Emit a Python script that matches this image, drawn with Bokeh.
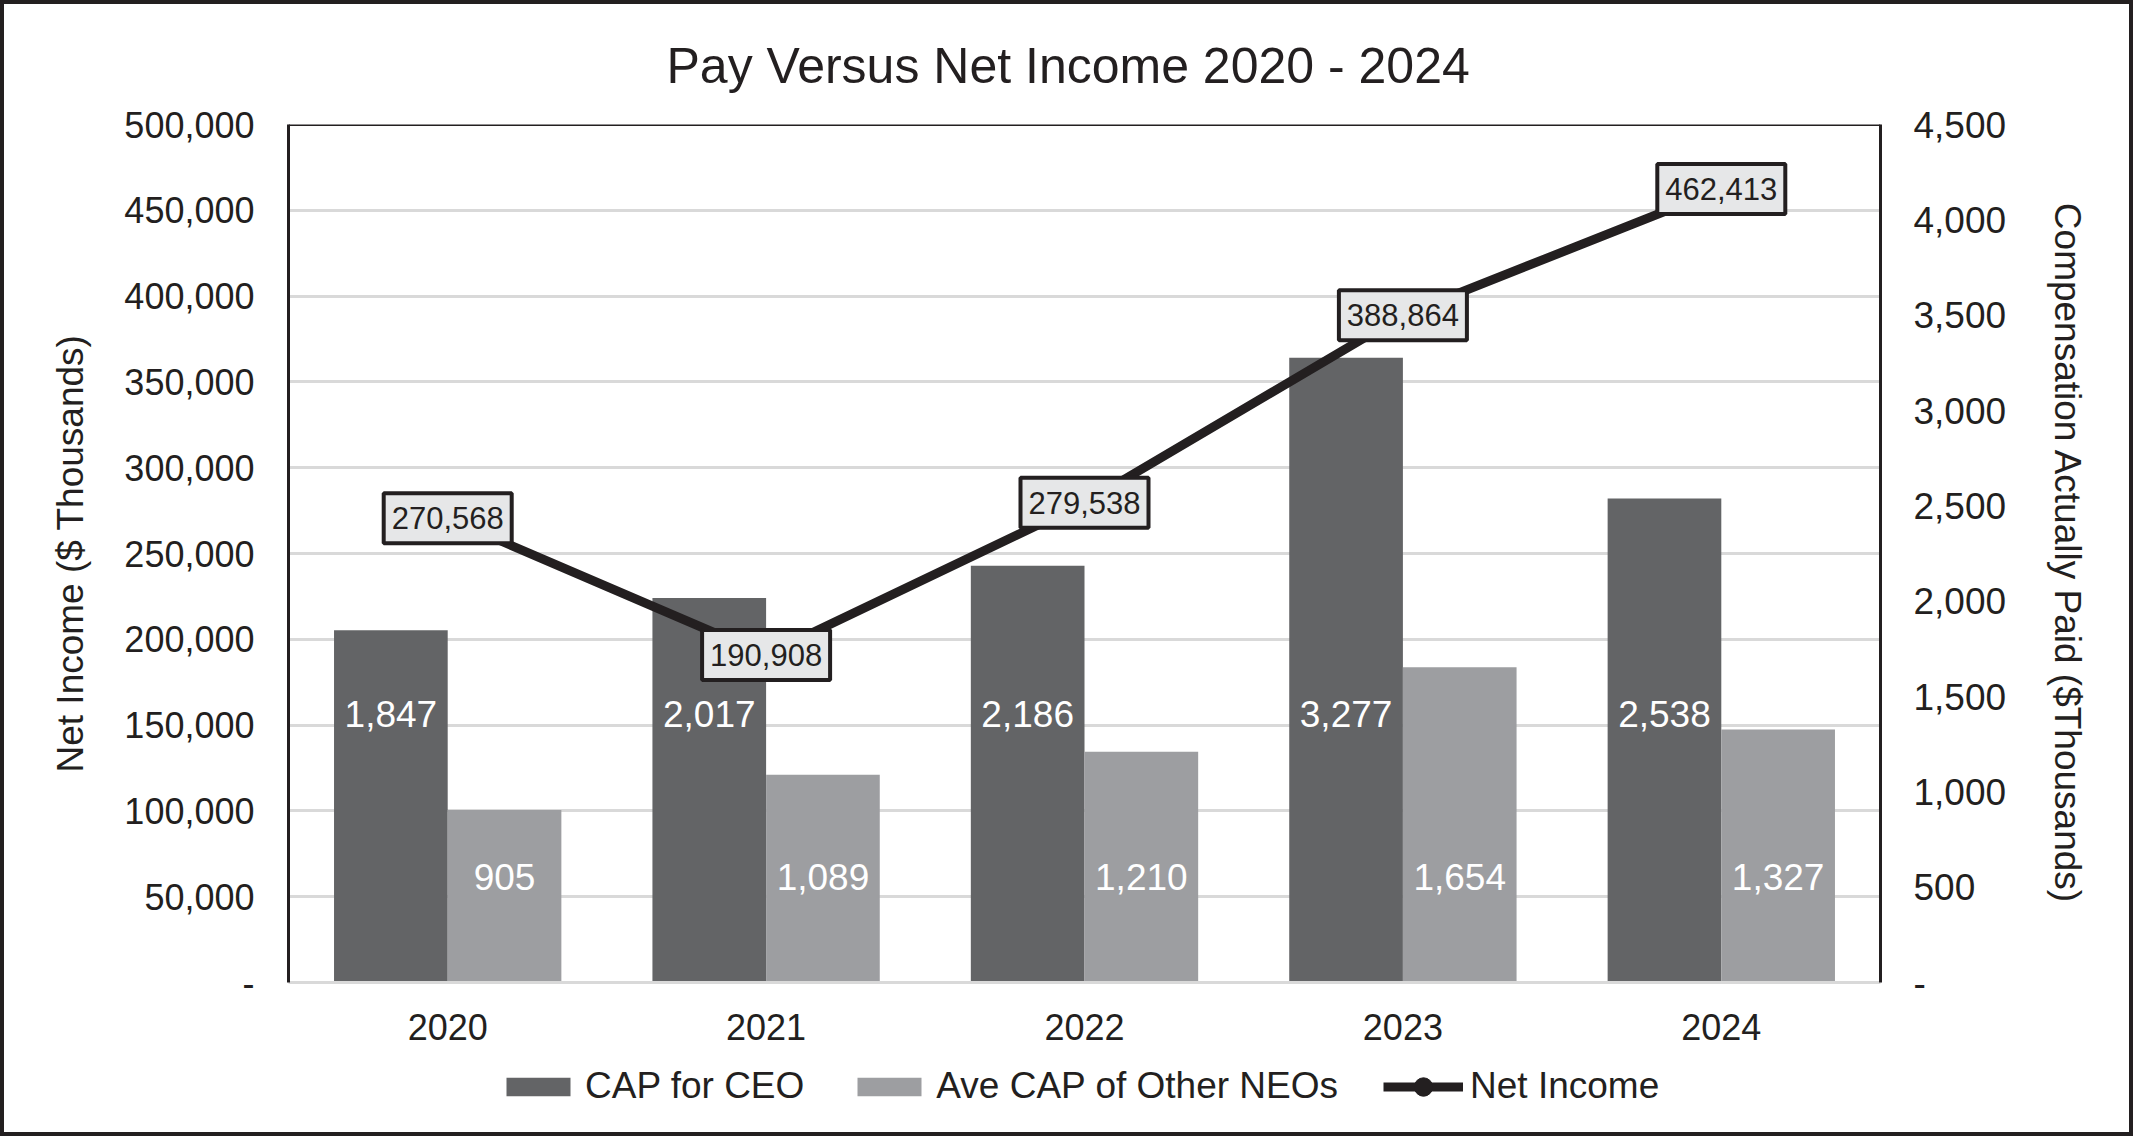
from bokeh.plotting import figure
from bokeh.layouts import column
from bokeh.models import (ColumnDataSource, FactorRange, Range1d, LinearAxis, FixedTicker,
                          NumeralTickFormatter, Legend, LegendItem, Span)
from bokeh.transform import dodge
from bokeh.core.properties import value
from bokeh.embed import file_html
from bokeh.resources import INLINE

# ---- data ----
years = ["2020", "2021", "2022", "2023", "2024"]
cap_ceo = [1847, 2017, 2186, 3277, 2538]
cap_neo = [905, 1089, 1210, 1654, 1327]
net_income = [270568, 190908, 279538, 388864, 462413]
left_ticks = [0, 50000, 100000, 150000, 200000, 250000, 300000, 350000, 400000, 450000, 500000]
right_ticks = [0, 500, 1000, 1500, 2000, 2500, 3000, 3500, 4000, 4500]
series_names = ["CAP for CEO", "Ave CAP of Other NEOs", "Net Income"]

FONT = "Liberation Sans"
DARK = "#231f20"
CEO_C = "#636466"
NEO_C = "#9d9ea1"
GRID_C = "#d9d9d9"
BOX_C = "#e6e7e8"

src = ColumnDataSource(dict(
    year=years, ceo=cap_ceo, neo=cap_neo, ni=net_income,
    ceo_lbl=[f"{v:,}" for v in cap_ceo],
    neo_lbl=[f"{v:,}" for v in cap_neo],
    ni_lbl=[f"{v:,}" for v in net_income],
))

B = 4
TOTAL_W, TOTAL_H = 2133 - 2 * B, 1136 - 2 * B
FL, FR, FT, FB = 288, 1880, 124, 982  # frame edges in page pixels
BOTTOM = 70
p = figure(frame_width=FR - FL, frame_height=FB - FT,
           x_range=FactorRange(*years), y_range=Range1d(0, 500000),
           output_backend="svg", toolbar_location=None,
           min_border_left=FL - B, min_border_right=2133 - B - FR,
           min_border_top=FT - B, min_border_bottom=BOTTOM,
           title="Pay Versus Net Income 2020 - 2024")
p.extra_y_ranges = {"cap": Range1d(0, 4500)}
p.outline_line_color = None
p.background_fill_color = "white"
p.border_fill_color = "white"

# title
p.title.align = "left"
p.title.offset = 378
p.title.text_font = FONT
p.title.text_font_size = "50px"
p.title.text_font_style = "normal"
p.title.text_color = DARK
p.title.standoff = 61


def style_axis(ax, size):
    ax.major_tick_line_color = None
    ax.minor_tick_line_color = None
    ax.major_label_text_font = FONT
    ax.major_label_text_font_size = size
    ax.major_label_text_color = DARK
    ax.axis_label_text_font = FONT
    ax.axis_label_text_font_size = "37px"
    ax.axis_label_text_font_style = "normal"
    ax.axis_label_text_color = DARK


# left axis
ly = p.yaxis[0]
ly.ticker = FixedTicker(ticks=left_ticks)
ly.formatter = NumeralTickFormatter(format="0,0")
ly.major_label_overrides = {0: "-"}
ly.axis_label = "Net Income ($ Thousands)"
style_axis(ly, "36px")
ly.axis_line_color = DARK
ly.axis_line_width = 3
ly.major_label_standoff = 28
ly.axis_label_standoff = 30

ry = LinearAxis(y_range_name="cap", ticker=FixedTicker(ticks=right_ticks),
                formatter=NumeralTickFormatter(format="0,0"),
                axis_label="Compensation Actually Paid ($Thousands)")
ry.major_label_overrides = {0: "-"}
style_axis(ry, "37px")
ry.axis_line_color = DARK
ry.axis_line_width = 3
ry.major_label_standoff = 27
ry.axis_label_standoff = 38
p.add_layout(ry, "right")

xa = p.xaxis[0]
style_axis(xa, "36px")
xa.axis_line_color = GRID_C
xa.axis_line_width = 3
xa.major_label_standoff = 25

p.xgrid.grid_line_color = None
p.ygrid.grid_line_color = GRID_C
p.ygrid.grid_line_width = 3

p.add_layout(Span(location=500000, dimension="width", line_color=DARK, line_width=3))

# bars
bw = 0.357
p.vbar(x=dodge("year", -bw / 2, range=p.x_range), top="ceo", width=bw, source=src,
       y_range_name="cap", fill_color=CEO_C, line_color=None)
p.vbar(x=dodge("year", bw / 2, range=p.x_range), top="neo", width=bw, source=src,
       y_range_name="cap", fill_color=NEO_C, line_color=None)

p.text(x=dodge("year", -bw / 2, range=p.x_range), y=1406, text="ceo_lbl", source=src,
       y_range_name="cap", text_font=value(FONT), text_font_size="37px", text_color="white",
       text_align="center", text_baseline="middle")
p.text(x=dodge("year", bw / 2, range=p.x_range), y=551, text="neo_lbl", source=src,
       y_range_name="cap", text_font=value(FONT), text_font_size="37px", text_color="white",
       text_align="center", text_baseline="middle")

# net income line
p.line(x="year", y="ni", source=src, line_color=DARK, line_width=9)
p.ellipse(x="year", y="ni", width=18, height=18, width_units="screen",
          height_units="screen", source=src, fill_color=DARK, line_color=DARK)
p.rect(x="year", y="ni", width=128, height=50, width_units="screen", height_units="screen",
       source=src, fill_color=BOX_C, line_color=DARK, line_width=4)
p.text(x="year", y="ni", text="ni_lbl", source=src, text_font=value(FONT),
       text_font_size="31px", text_color=DARK, text_align="center", text_baseline="middle")

# ---- legend strip (separate figure so it is not clipped by the plot frame) ----
LEG_H = TOTAL_H - (FT - B) - (FB - FT) - BOTTOM
q = figure(width=TOTAL_W, height=LEG_H, x_range=Range1d(0, 1), y_range=Range1d(0, 1),
           output_backend="svg", toolbar_location=None, x_axis_type=None, y_axis_type=None,
           min_border=0)
q.outline_line_color = None
q.grid.grid_line_color = None
q.background_fill_color = "white"
q.border_fill_color = "white"
lg_ceo = q.vbar(x=[-5], top=[-5], width=0.1, fill_color=CEO_C, line_color=None)
lg_neo = q.vbar(x=[-5], top=[-5], width=0.1, fill_color=NEO_C, line_color=None)
lg_line = q.line(x=[-5, -4], y=[-5, -5], line_color=DARK, line_width=9)
lg_pt = q.ellipse(x=[-5], y=[-5], width=18, height=18, width_units="screen",
                  height_units="screen", fill_color=DARK, line_color=DARK)

legend = Legend(items=[
    LegendItem(label=series_names[0], renderers=[lg_ceo]),
    LegendItem(label=series_names[1], renderers=[lg_neo]),
    LegendItem(label=series_names[2], renderers=[lg_line, lg_pt]),
], orientation="horizontal", location=(498 - FL, 25))
legend.label_text_font = FONT
legend.label_text_font_size = "37px"
legend.label_text_color = DARK
legend.glyph_width = 80
legend.glyph_height = 23
legend.label_standoff = 7
legend.spacing = 45
legend.border_line_color = None
legend.background_fill_alpha = 0
legend.padding = 0
legend.margin = 0
q.add_layout(legend)

layout = column(p, q, spacing=0, styles={"border": f"{B}px solid {DARK}"})

open("out.html", "w").write(file_html(layout, INLINE))
